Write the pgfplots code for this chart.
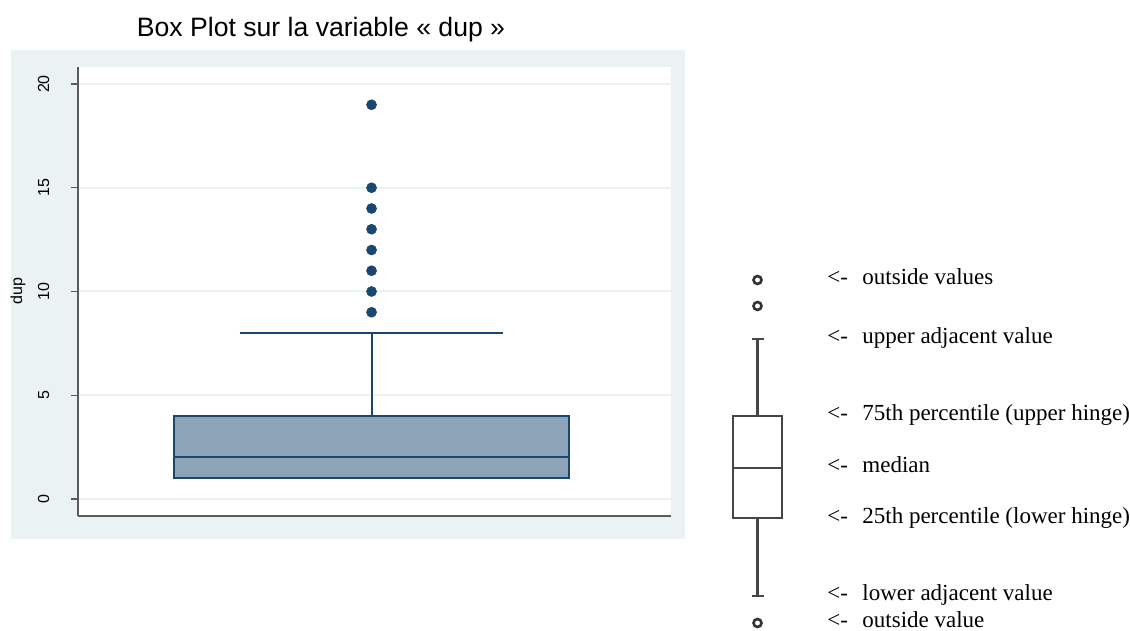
\documentclass[border=0pt]{standalone}
\usepackage{pgfplots}
\pgfplotsset{compat=1.18}
\usepgfplotslibrary{statistics}
\usepackage{fontspec}
\setmainfont{Liberation Serif}
\newfontfamily\arial{Liberation Sans}
\definecolor{navy}{RGB}{26,71,111}
\definecolor{boxfill}{RGB}{141,163,183}
\definecolor{bgblue}{RGB}{234,242,243}
\definecolor{axgray}{RGB}{90,90,90}
\definecolor{schem}{RGB}{70,70,70}
\begin{document}
\begin{tikzpicture}
\path[use as bounding box] (0pt,0pt) rectangle (565pt,315.5pt);
% Stata outer graph region
\fill[bgblue] (5.5pt,46pt) rectangle (342.5pt,290.5pt);
% title
\node[anchor=base, font=\arial\fontsize{13.3}{16}\selectfont, inner sep=0pt] at (160.5pt,297pt) {Box Plot sur la variable « dup »};
% y label
\node[rotate=90, anchor=base, font=\arial\fontsize{8}{9.6}\selectfont, inner sep=0pt] at (11pt,170pt) {dup};
\begin{axis}[
  at={(39pt,57.5pt)}, anchor=south west,
  scale only axis, width=296.5pt, height=224.5pt,
  xmin=0, xmax=1, ymin=-0.82, ymax=20.82,
  axis x line*=bottom, axis y line*=left,
  axis line style={axgray, line width=0.8pt},
  axis background/.style={fill=white},
  xtick=\empty,
  ytick={0,5,10,15,20},
  ymajorgrids, grid style={bgblue, line width=1pt},
  tick align=outside, major tick length=3.5pt,
  tick style={axgray, line width=0.6pt},
  /pgf/number format/assume math mode=true,
  yticklabel style={font=\arial\fontsize{8}{9.6}\selectfont, xshift=-11pt, rotate=90, anchor=base, inner sep=0pt},
  boxplot/draw direction=y,
  boxplot/every whisker/.style={draw=navy, line width=1pt},
  boxplot/every median/.style={draw=navy, line width=1pt},
  clip=false,
]
\addplot[boxplot prepared={draw position=0.495, median=2, lower quartile=1, upper quartile=4, lower whisker=1, upper whisker=8, box extend=0.666, whisker extend=0.445},
  draw=navy, fill=boxfill, line width=0.9pt,
  mark=*, mark size=2.5pt, mark options={fill=navy, draw=navy, line width=0.3pt}]
  table[row sep=\\, y index=0] {data\\ 9\\ 10\\ 11\\ 12\\ 13\\ 14\\ 15\\ 19\\};
\end{axis}
% schematic explanation (pixel-like units)
\begin{axis}[
  at={(350pt,0pt)}, anchor=south west,
  scale only axis, width=215pt, height=315.5pt,
  xmin=700, xmax=1130, ymin=-631, ymax=0,
  hide axis, clip=false,
  boxplot/draw direction=y,
  boxplot/every whisker/.style={draw=schem, line width=1.1pt},
  boxplot/every median/.style={draw=schem, line width=1.1pt},
]
\addplot[boxplot prepared={draw position=757.5, median=-468, lower quartile=-518, upper quartile=-416, lower whisker=-596, upper whisker=-339, box extend=49, whisker extend=12},
  draw=schem, line width=1.1pt,
  mark=o, mark size=2pt, mark options={draw=black!80, line width=1.3pt}]
  table[row sep=\\, y index=0] {data\\ -280\\ -306\\ -623\\};
\begin{scope}[every node/.style={anchor=mid west, inner sep=0pt, font=\fontsize{11.5}{13.8}\selectfont}]
\node at (axis cs:827,-280) {<-};
\node at (axis cs:862,-280) {outside values};
\node at (axis cs:827,-339) {<-};
\node at (axis cs:862,-339) {upper adjacent value};
\node at (axis cs:827,-416) {<-};
\node at (axis cs:862,-416) {75th percentile (upper hinge)};
\node at (axis cs:827,-468) {<-};
\node at (axis cs:862,-468) {median};
\node at (axis cs:827,-519) {<-};
\node at (axis cs:862,-519) {25th percentile (lower hinge)};
\node at (axis cs:827,-596) {<-};
\node at (axis cs:862,-596) {lower adjacent value};
\node at (axis cs:827,-623) {<-};
\node at (axis cs:862,-623) {outside value};
\end{scope}
\end{axis}
\end{tikzpicture}
\end{document}
